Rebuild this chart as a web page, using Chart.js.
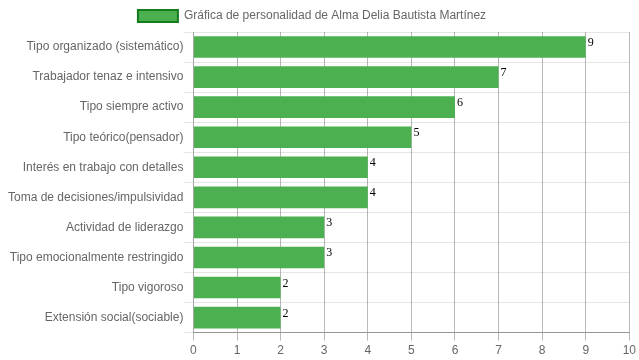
<!DOCTYPE html>
<html>
<head>
<meta charset="utf-8">
<script src="https://cdn.jsdelivr.net/npm/chart.js@4/dist/chart.umd.min.js"></script>
<style>
  html, body { margin: 0; padding: 0; background: #fff; }
  #wrap { width: 639px; height: 360px; position: relative; }
</style>
</head>
<body>
<div id="wrap"><canvas id="c" width="639" height="360"></canvas></div>
<script>
const categories = [
  "Tipo organizado (sistemático)",
  "Trabajador tenaz e intensivo",
  "Tipo siempre activo",
  "Tipo teórico(pensador)",
  "Interés en trabajo con detalles",
  "Toma de decisiones/impulsividad",
  "Actividad de liderazgo",
  "Tipo emocionalmente restringido",
  "Tipo vigoroso",
  "Extensión social(sociable)"
];
const values = [9, 7, 6, 5, 4, 4, 3, 3, 2, 2];
const seriesName = "Gráfica de personalidad de Alma Delia Bautista Martínez";
const xTicks = { min: 0, max: 10, step: 1 };

const FILL = '#4CAF50';
const EDGE = 'rgb(22,125,28)';

const valueLabels = {
  id: 'valueLabels',
  afterDatasetsDraw(chart) {
    const ctx = chart.ctx;
    ctx.save();
    ctx.font = '12px "Liberation Serif", "Times New Roman", serif';
    ctx.fillStyle = '#000';
    ctx.textAlign = 'left';
    ctx.textBaseline = 'alphabetic';
    chart.getDatasetMeta(0).data.forEach((bar, i) => {
      ctx.fillText(String(values[i]), bar.x + 2, bar.y - 1);
    });
    ctx.restore();
  }
};

const legendShift = {
  id: 'legendShift',
  afterLayout(chart) {
    if (chart.legend) {
      chart.legend.left -= 10;
      chart.legend.right -= 10;
    }
  }
};

Chart.defaults.font.family = '"Liberation Sans", Arial, sans-serif';
Chart.defaults.font.size = 12;
Chart.defaults.color = '#666';

new Chart(document.getElementById('c'), {
  type: 'bar',
  data: {
    labels: categories,
    datasets: [{
      label: seriesName,
      data: values,
      backgroundColor: FILL,
      borderWidth: 0
    }]
  },
  options: {
    indexAxis: 'y',
    responsive: false,
    animation: false,
    layout: { padding: { left: 8, right: 3, top: 0, bottom: -1 } },
    plugins: {
      tooltip: { enabled: false },
      legend: {
        display: true,
        position: 'top',
        labels: {
          boxWidth: 40,
          boxHeight: 12,
          color: '#666',
          generateLabels(chart) {
            return [{
              text: seriesName,
              fillStyle: FILL,
              strokeStyle: EDGE,
              lineWidth: 2,
              fontColor: '#666',
              hidden: false,
              datasetIndex: 0
            }];
          }
        }
      }
    },
    scales: {
      x: {
        min: xTicks.min,
        max: xTicks.max,
        ticks: { stepSize: xTicks.step, padding: 3, color: '#666' },
        grid: { color: 'rgba(0,0,0,0.28)', tickLength: 8 },
        border: { color: 'rgba(0,0,0,0.35)' }
      },
      y: {
        ticks: { padding: 0, color: '#666' },
        grid: { color: 'rgba(0,0,0,0.1)', tickLength: 10, offset: true },
        border: { color: 'rgba(0,0,0,0.1)' }
      }
    }
  },
  plugins: [valueLabels, legendShift]
});
</script>
</body>
</html>
